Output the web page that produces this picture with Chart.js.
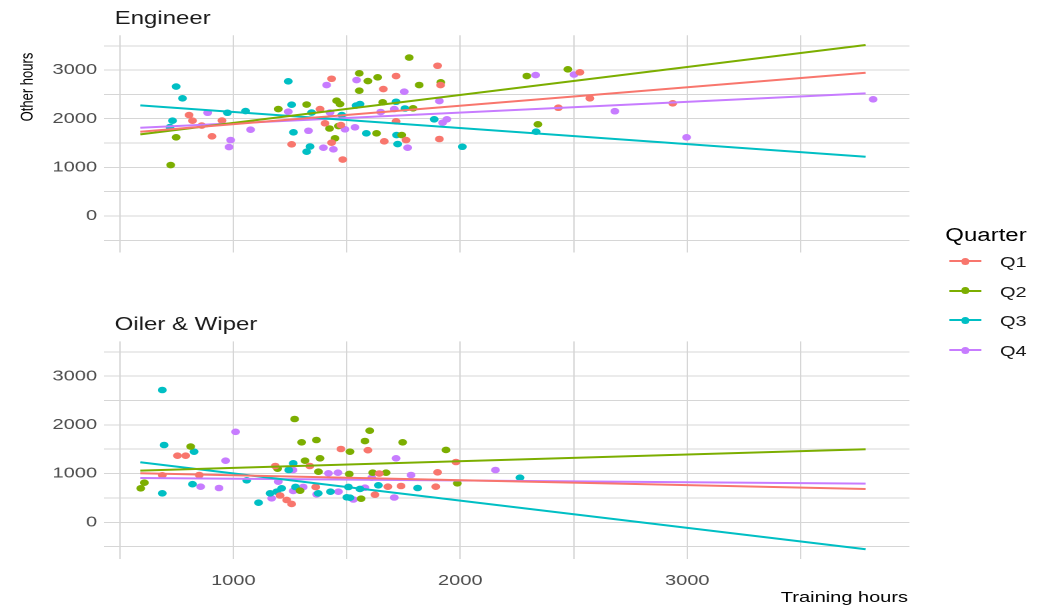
<!DOCTYPE html>
<html>
<head>
<meta charset="utf-8">
<script src="https://cdn.jsdelivr.net/npm/chart.js@4.4.1/dist/chart.umd.min.js"></script>
<style>
  html, body { margin:0; padding:0; background:#fff; overflow:hidden; width:1040px; height:610px; }
  #stage { position:absolute; left:0; top:0; width:780px; height:610px; transform:scaleX(1.33333); transform-origin:0 0;
           font-family:"Liberation Sans", Arial, sans-serif; }
  #c1 { position:absolute; left:0; top:0; }
  #c2 { position:absolute; left:0; top:300px; }
  #legend { position:absolute; left:709px; top:222px; color:#000; }
  #legend .ttl { font-size:18px; line-height:26px; height:26px; }
  #legend .row { position:relative; height:29.7px; }
  #legend .key { position:absolute; left:3px; top:12px; width:24px; height:2px; }
  #legend .dot { position:absolute; left:9px; top:-2.5px; width:6px; height:7px; border-radius:50%; }
  #legend .lab { position:absolute; left:41px; top:5px; font-size:15px; line-height:18px; color:#1a1a1a; }
</style>
</head>
<body>
<div id="stage">
  <canvas id="c1" width="780" height="300"></canvas>
  <canvas id="c2" width="780" height="310"></canvas>
  <div id="legend"></div>
</div>
<script>
// ---------- data ----------
const quarters = ['Q1', 'Q2', 'Q3', 'Q4'];
const colors = ['#F8766D', '#7CAE00', '#00BFC4', '#C77CFF'];
const panels = ['Engineer', 'Oiler & Wiper'];

const xMajor = [1000, 2000, 3000];
const xMinor = [500, 1500, 2500, 3500];
const yMajor = [0, 1000, 2000, 3000];
const yMinor = [-500, 500, 1500, 2500, 3500];

// Engineer panel points
const engQ1x = [805, 820, 861, 906, 950, 1257, 1382, 1404, 1433, 1433, 1474, 1482, 1661, 1717, 1665, 1717, 1761, 1900, 1913, 1908, 2432, 2527, 2571, 2936];
const engQ1y = [2076, 1959, 1860, 1638, 1963, 1474, 2199, 1905, 2822, 1507, 1870, 1161, 2610, 2878, 1535, 1947, 1562, 3089, 2693, 1583, 2226, 2954, 2419, 2317];
const engQ2x = [748, 724, 1198, 1323, 1424, 1455, 1470, 1463, 1448, 1555, 1555, 1593, 1636, 1658, 1631, 1742, 1792, 1775, 1819, 1914, 2293, 2342, 2474];
const engQ2y = [1618, 1048, 2199, 2292, 1799, 2370, 2302, 1850, 1597, 2933, 2576, 2775, 2851, 2337, 1700, 1665, 2214, 3258, 2693, 2748, 2878, 1885, 3015];
const engQ3x = [748, 776, 732, 721, 974, 1054, 1242, 1257, 1265, 1338, 1323, 1345, 1478, 1541, 1558, 1586, 1717, 1719, 1724, 1756, 1885, 2009, 2334];
const engQ3y = [2662, 2419, 1959, 1829, 2123, 2158, 2769, 2288, 1720, 1429, 1322, 2127, 2076, 2271, 2302, 1700, 2349, 1665, 1480, 2210, 1988, 1424, 1733];
const engQ4x = [887, 988, 981, 1076, 1242, 1331, 1411, 1426, 1397, 1441, 1492, 1536, 1543, 1649, 1709, 1753, 1768, 1908, 1922, 1941, 2332, 2501, 2681, 2997, 3819];
const engQ4y = [2123, 1562, 1418, 1774, 2144, 1753, 2693, 2127, 1404, 1371, 1782, 1823, 2795, 2138, 2199, 2555, 1404, 2364, 1918, 1988, 2898, 2909, 2154, 1618, 2399];

// Oiler & Wiper panel points
const oilQ1x = [687, 754, 790, 850, 1185, 1206, 1235, 1257, 1337, 1363, 1474, 1593, 1643, 1624, 1681, 1739, 1900, 1892, 1981];
const oilQ1y = [965, 1368, 1368, 971, 1156, 550, 458, 376, 1156, 725, 1505, 1480, 1000, 567, 731, 745, 1027, 731, 1238];
const oilQ2x = [592, 608, 812, 1195, 1270, 1301, 1366, 1382, 1316, 1375, 1294, 1514, 1511, 1563, 1580, 1601, 1614, 1673, 1746, 1937, 1987];
const oilQ2y = [698, 813, 1556, 1101, 2121, 1643, 1690, 1314, 1265, 1039, 649, 1450, 992, 485, 1669, 1881, 1018, 1018, 1643, 1485, 801];
const oilQ3x = [687, 695, 687, 827, 820, 1059, 1111, 1264, 1244, 1162, 1191, 1213, 1274, 1374, 1428, 1507, 1500, 1514, 1558, 1639, 1812, 2263];
const oilQ3y = [2717, 1587, 595, 1450, 782, 862, 402, 1211, 1074, 595, 628, 698, 725, 595, 628, 725, 513, 505, 684, 760, 704, 916];
const oilQ4x = [856, 937, 966, 1010, 1169, 1198, 1264, 1308, 1367, 1419, 1461, 1463, 1529, 1580, 1610, 1717, 1783, 1709, 2155, 1263];
const oilQ4y = [731, 704, 1265, 1858, 493, 834, 643, 725, 575, 1006, 1018, 628, 468, 710, 916, 1314, 971, 509, 1074, 1074];

// fitted-line end points (x from, x to) and y at each end
const fitX = [590, 3786];
const engFitQ1 = [1733, 2946];
const engFitQ2 = [1679, 3515];
const engFitQ3 = [2275, 1219];
const engFitQ4 = [1815, 2522];
const oilFitQ1 = [1006, 684];
const oilFitQ2 = [1060, 1499];
const oilFitQ3 = [1232, -554];
const oilFitQ4 = [910, 793];

const xRange = [429, 3979];
const yRange = [-750, 3715];

// ---------- helpers ----------
const FONT = '"Liberation Sans", Arial, sans-serif';
const GRID = '#D6D6D6';
const pts = (xs, ys) => xs.map((x, i) => ({ x: x, y: ys[i] }));
const fit = (ys) => fitX.map((x, i) => ({ x: x, y: ys[i] }));
const xTicks = [...xMajor, ...xMinor].sort((a, b) => a - b);
const yTicks = [...yMajor, ...yMinor].sort((a, b) => a - b);

const textPlugin = {
  id: 'texts',
  afterDraw(chart, args, opts) {
    const ctx = chart.ctx;
    (opts.items || []).forEach(t => {
      ctx.save();
      ctx.font = t.size + 'px ' + FONT;
      ctx.fillStyle = t.color;
      ctx.textAlign = t.align || 'left';
      ctx.textBaseline = 'middle';
      ctx.translate(t.x, t.y);
      if (t.rot) ctx.rotate(t.rot);
      ctx.fillText(t.text, 0, 0);
      ctx.restore();
    });
  }
};

function makeChart(canvasId, pointSets, fitSets, cfg) {
  const datasets = [];
  fitSets.forEach((f, i) => datasets.push({
    label: quarters[i] + ' fit', data: fit(f), showLine: true, borderColor: colors[i],
    borderWidth: 2, pointRadius: 0, fill: false, order: 0
  }));
  pointSets.forEach((p, i) => datasets.push({
    label: quarters[i], data: pts(p[0], p[1]), backgroundColor: colors[i], borderWidth: 0,
    pointRadius: 3.3, order: 1
  }));
  return new Chart(document.getElementById(canvasId), {
    type: 'scatter',
    data: { datasets },
    options: {
      responsive: false,
      devicePixelRatio: 2,
      animation: false,
      layout: { padding: cfg.padding },
      plugins: { legend: { display: false }, tooltip: { enabled: false }, texts: { items: cfg.texts } },
      scales: {
        x: {
          type: 'linear', min: xRange[0], max: xRange[1],
          afterBuildTicks: s => { s.ticks = xTicks.map(v => ({ value: v })); },
          afterFit: s => { s.height = cfg.xHeight; },
          ticks: {
            display: cfg.showX, autoSkip: false, maxRotation: 0, padding: 13,
            color: '#4D4D4D', font: { family: FONT, size: 15 },
            callback: v => xMajor.includes(v) ? String(v) : ''
          },
          grid: { color: GRID, lineWidth: 1, drawTicks: false },
          border: { display: false }
        },
        y: {
          type: 'linear', min: yRange[0], max: yRange[1],
          afterBuildTicks: s => { s.ticks = yTicks.map(v => ({ value: v })); },
          afterFit: s => { s.width = 77.8; },
          ticks: {
            autoSkip: false, padding: 5, color: '#4D4D4D', font: { family: FONT, size: 15 },
            callback: v => yMajor.includes(v) ? String(v) : ''
          },
          grid: { color: GRID, lineWidth: 1, drawTicks: false },
          border: { display: false }
        }
      }
    },
    plugins: [textPlugin]
  });
}

makeChart('c1',
  [[engQ1x, engQ1y], [engQ2x, engQ2y], [engQ3x, engQ3y], [engQ4x, engQ4y]],
  [engFitQ1, engFitQ2, engFitQ3, engFitQ4],
  {
    padding: { left: 0, top: 35.3, right: 97.9, bottom: 47.5 }, xHeight: 0, showX: false,
    texts: [
      { text: panels[0], x: 86, y: 19, size: 18, color: '#1A1A1A' },
      { text: 'Other hours', x: 21, y: 87, size: 13, color: '#000', align: 'center', rot: -Math.PI / 2 }
    ]
  });

makeChart('c2',
  [[oilQ1x, oilQ1y], [oilQ2x, oilQ2y], [oilQ3x, oilQ3y], [oilQ4x, oilQ4y]],
  [oilFitQ1, oilFitQ2, oilFitQ3, oilFitQ4],
  {
    padding: { left: 0, top: 41.4, right: 97.9, bottom: 0 }, xHeight: 51.2, showX: true,
    texts: [
      { text: panels[1], x: 86, y: 25, size: 18, color: '#1A1A1A' },
      { text: 'Training hours', x: 681, y: 298, size: 15, color: '#000', align: 'right' }
    ]
  });

// legend
const lg = document.getElementById('legend');
let html = '<div class="ttl">Quarter</div>';
quarters.forEach((q, i) => {
  html += '<div class="row"><div class="key" style="background:' + colors[i] + '"><div class="dot" style="background:' + colors[i] +
          '"></div></div><div class="lab">' + q + '</div></div>';
});
lg.innerHTML = html;
</script>
</body>
</html>
